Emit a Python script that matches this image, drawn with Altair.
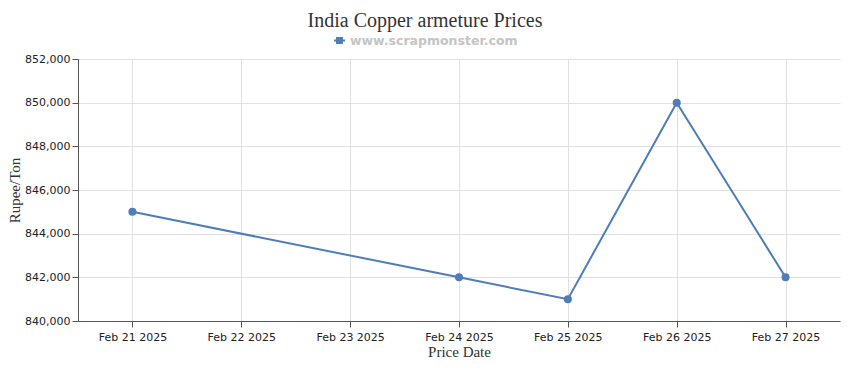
import altair as alt
import pandas as pd

all_dates = ["Feb 21 2025", "Feb 22 2025", "Feb 23 2025", "Feb 24 2025",
             "Feb 25 2025", "Feb 26 2025", "Feb 27 2025"]
dates = ["Feb 21 2025", "Feb 24 2025", "Feb 25 2025", "Feb 26 2025", "Feb 27 2025"]
prices = [845000, 842000, 841000, 850000, 842000]
series = "www.scrapmonster.com"
y_ticks = [840000, 842000, 844000, 846000, 848000, 850000, 852000]

df = pd.DataFrame({"date": dates, "price": prices, "series": [series] * len(dates)})

color = "#4f7db8"
sans = "DejaVu Sans"
serif = "Liberation Serif"

x = alt.X("date:O", title="Price Date",
          scale=alt.Scale(type="point", domain=all_dates, padding=0.5),
          axis=alt.Axis(labelAngle=0, labelFont=sans, labelFontSize=11, labelColor="#222",
                        titleFont=serif, titleFontSize=15, titleFontWeight="normal",
                        titleColor="#333", titlePadding=2, grid=True, gridColor="#e0e0e0",
                        domainColor="#555", tickColor="#555", tickSize=6, labelPadding=4))
y = alt.Y("price:Q", title="Rupee/Ton",
          scale=alt.Scale(domain=[840000, 852000], nice=False, zero=False),
          axis=alt.Axis(values=y_ticks, format=",d", labelFont=sans, labelFontSize=11,
                        labelColor="#222", titleFont=serif, titleFontSize=15,
                        titleFontWeight="normal", titleColor="#333",
                        titleX=-64, titleY=131, titleAlign="center", titleBaseline="middle",
                        titleAngle=270,
                        grid=True, gridColor="#e0e0e0", domainColor="#555",
                        tickColor="#555", tickSize=6))
col = alt.Color("series:N", scale=alt.Scale(range=[color]),
                legend=alt.Legend(title=None, orient="none", legendX=255, legendY=-25,
                                  labelFont=sans, labelFontSize=12.5, labelFontWeight="bold",
                                  labelColor="#c4c4c4", labelLimit=400,
                                  symbolType="M-1,0L1,0M-0.45,-0.45L0.45,-0.45L0.45,0.45L-0.45,0.45Z",
                                  symbolStrokeWidth=2, symbolSize=120,
                                  symbolFillColor=color, symbolStrokeColor=color))

line = alt.Chart(df).mark_line(strokeWidth=2).encode(x=x, y=y, color=col)
pts = alt.Chart(df).mark_point(filled=True, size=65, opacity=1).encode(
    x=x, y=y, color=alt.Color("series:N", scale=alt.Scale(range=[color]), legend=None))

chart = (line + pts).properties(
    width=762, height=262,
    title=alt.TitleParams("India Copper armeture Prices", font=serif, fontSize=20,
                          fontWeight="normal", color="#333", dx=-34, offset=3),
    autosize=alt.AutoSizeParams(type="none"),
    padding={"left": 70, "top": 51, "right": 2, "bottom": 40},
).configure_view(stroke=None)

chart.save("out.html", embed_options={"renderer": "svg", "actions": False})
